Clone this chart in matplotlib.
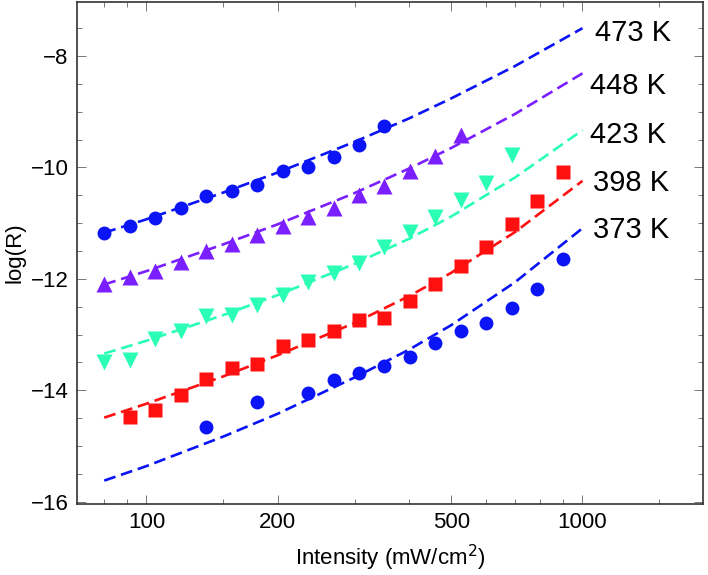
import matplotlib
matplotlib.use("Agg")
import matplotlib.pyplot as plt
from matplotlib.ticker import FixedLocator, NullFormatter

plt.rcParams['font.family'] = ['Liberation Sans', 'DejaVu Sans']

# intensity grid of the measurements (mW/cm^2)
intensity = [80, 91.5, 104.7, 119.8, 137, 156.8, 179.3, 205.2, 234.7, 268.5,
             307.1, 351.4, 402, 459.9, 526, 601.8, 688.6, 787.7, 901]

# measured log(R)
y473 = [-11.18, -11.05, -10.90, -10.73, -10.52, -10.43, -10.32, -10.07, -10.00,
        -9.82, -9.59, -9.26]
y448 = [-12.10, -11.97, -11.85, -11.69, -11.50, -11.38, -11.22, -11.05, -10.89,
        -10.72, -10.50, -10.33, -10.06, -9.80, -9.41]
y423 = [-13.49, -13.45, -13.07, -12.94, -12.67, -12.64, -12.46, -12.28, -12.06,
        -11.90, -11.72, -11.42, -11.16, -10.89, -10.59, -10.28, -9.78]
y398 = [-14.47, -14.36, -14.09, -13.79, -13.60, -13.52, -13.21, -13.09, -12.94,
        -12.73, -12.70, -12.39, -12.10, -11.77, -11.43, -11.02, -10.61, -10.09]
x373 = [137, 179.3, 234.7, 268.5, 307.1, 351.4, 402, 459.9, 526, 601.8, 688.6,
        787.7, 901]
y373 = [-14.65, -14.21, -14.04, -13.82, -13.68, -13.57, -13.41, -13.15, -12.93,
        -12.79, -12.52, -12.18, -11.64]

# fitted curves, read at these intensities
fit_x = [80, 100, 150, 200, 300, 400, 500, 700, 1000]
fit473 = [-11.17, -10.93, -10.45, -10.09, -9.54, -9.12, -8.76, -8.18, -7.50]
fit448 = [-12.10, -11.86, -11.38, -11.02, -10.46, -10.02, -9.65, -9.04, -8.31]
fit423 = [-13.34, -13.11, -12.65, -12.29, -11.73, -11.28, -10.88, -10.18, -9.33]
fit398 = [-14.49, -14.24, -13.75, -13.37, -12.79, -12.31, -11.89, -11.16, -10.24]
fit373 = [-15.62, -15.36, -14.83, -14.42, -13.77, -13.27, -12.83, -12.06, -11.09]

labels = ['473 K', '448 K', '423 K', '398 K', '373 K']
label_x = [1067, 1041, 1041, 1055, 1055]
label_y = [-7.59, -8.53, -9.42, -10.27, -11.13]

blue = '#0a14f5'
purple = '#7a1fff'
cyan = '#2bffb5'
red = '#ff1010'

fig = plt.figure(figsize=(7.08, 5.75), dpi=100)
ax = fig.add_axes([0.1088, 0.1235, 0.8842, 0.873])

dash = dict(ls=(0, (4.5, 2.2)), lw=1.9)
ax.plot(fit_x, fit473, color=blue, **dash)
ax.plot(fit_x, fit448, color=purple, **dash)
ax.plot(fit_x, fit423, color=cyan, **dash)
ax.plot(fit_x, fit398, color=red, **dash)
ax.plot(fit_x, fit373, color=blue, **dash)

ax.plot(intensity[:len(y473)], y473, 'o', color=blue, ms=10, mec='none')
ax.plot(intensity[:len(y448)], y448, '^', color=purple, ms=11.5, mec='none')
ax.plot(intensity[:len(y423)], y423, 'v', color=cyan, ms=11.5, mec='none')
ax.plot(intensity[1:1 + len(y398)], y398, 's', color=red, ms=9.5, mec='none')
ax.plot(x373, y373, 'o', color=blue, ms=10, mec='none')

for t, lx, ly in zip(labels, label_x, label_y):
    ax.text(lx, ly, t, fontsize=21, ha='left', va='center')

ax.set_xscale('log')
ax.set_xlim(69.3, 1890)
ax.set_ylim(-16.04, -7.03)

ax.xaxis.set_major_locator(FixedLocator([100, 200, 500, 1000]))
ax.xaxis.set_minor_locator(FixedLocator([80, 90, 150, 300, 400, 600, 700, 800, 900, 1500]))
ax.xaxis.set_minor_formatter(NullFormatter())
ax.set_xticklabels(['100', '200', '500', '1000'])
ax.yaxis.set_major_locator(FixedLocator([-16, -14, -12, -10, -8]))
ax.yaxis.set_minor_locator(FixedLocator([x * 0.5 for x in range(-32, -13)]))
ax.set_yticklabels(['\u221216', '\u221214', '\u221212', '\u221210', '\u22128'])

ax.tick_params(which='both', direction='in', top=True, right=True,
               labelsize=16, color='#777777', width=0.7)
ax.tick_params(which='major', length=6.5, pad=6)
ax.tick_params(which='minor', length=3.5)
for s in ax.spines.values():
    s.set_color('#333333')
    s.set_linewidth(1.2)

ax.set_xlabel('Intensity (mW/cm$^2$)', fontsize=16, labelpad=7)
ax.set_ylabel('log(R)', fontsize=16, labelpad=4)

fig.savefig('out.png', dpi=100)
